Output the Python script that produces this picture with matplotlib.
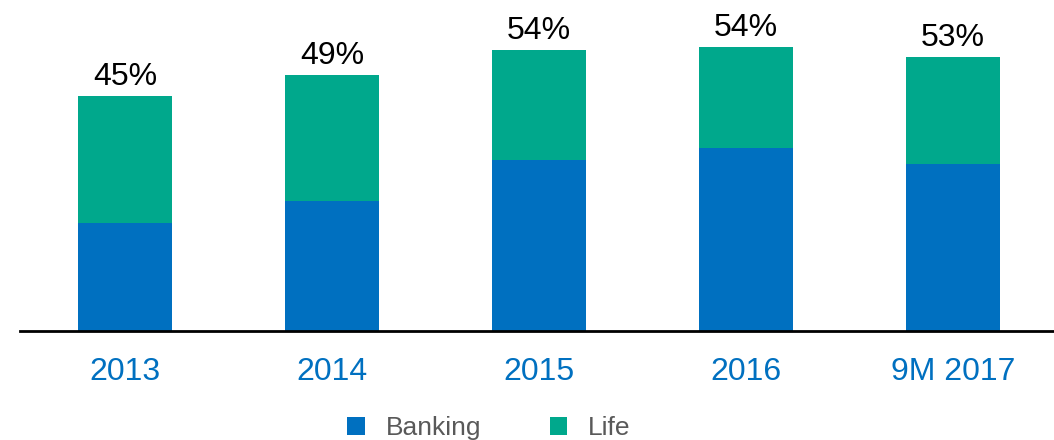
import numpy as np
from matplotlib import pyplot as plt

plt.rcParams['font.family'] = ['Liberation Sans', 'DejaVu Sans']

# data (% share)
periods = ["2013", "2014", "2015", "2016", "9M 2017"]
banking = [20.7, 24.9, 32.7, 35.0, 32.0]
totals = [45.0, 49.0, 53.8, 54.4, 52.5]
life = [t - b for t, b in zip(totals, banking)]
labels = ["45%", "49%", "54%", "54%", "53%"]

blue = "#0070C0"
green = "#00A88C"

fig = plt.figure(figsize=(10.54, 4.4), dpi=100)
ax = fig.add_axes([20 / 1054, 109 / 440, 1 - 20 / 1054, 331 / 440])

x = np.arange(len(periods))
w = 0.454
ax.bar(x, banking, w, color=blue, label="Banking")
ax.bar(x, life, w, bottom=banking, color=green, label="Life")

for xi, t, lab in zip(x, totals, labels):
    ax.annotate(lab, (xi, t), xytext=(0, 3), textcoords="offset points",
                ha="center", va="bottom", fontsize=23, color="black")

ax.set_xlim(-0.507, 4.488)
ax.set_ylim(0, 63.4)
ax.set_xticks(x)
ax.set_xticklabels(periods, fontsize=23, color=blue)
ax.tick_params(axis="x", length=0, pad=19)
ax.set_yticks([])
for s in ["top", "right", "left"]:
    ax.spines[s].set_visible(False)
ax.spines["bottom"].set_linewidth(2)
ax.spines["bottom"].set_color("black")

fig.legend(loc="center", bbox_to_anchor=(489 / 1054, 1 - 428 / 440), ncol=2,
           frameon=False, fontsize=19, handlelength=0.65, handleheight=0.65,
           handletextpad=0.8, columnspacing=2.6, labelcolor="#595959")

fig.savefig("out.png", dpi=100)
